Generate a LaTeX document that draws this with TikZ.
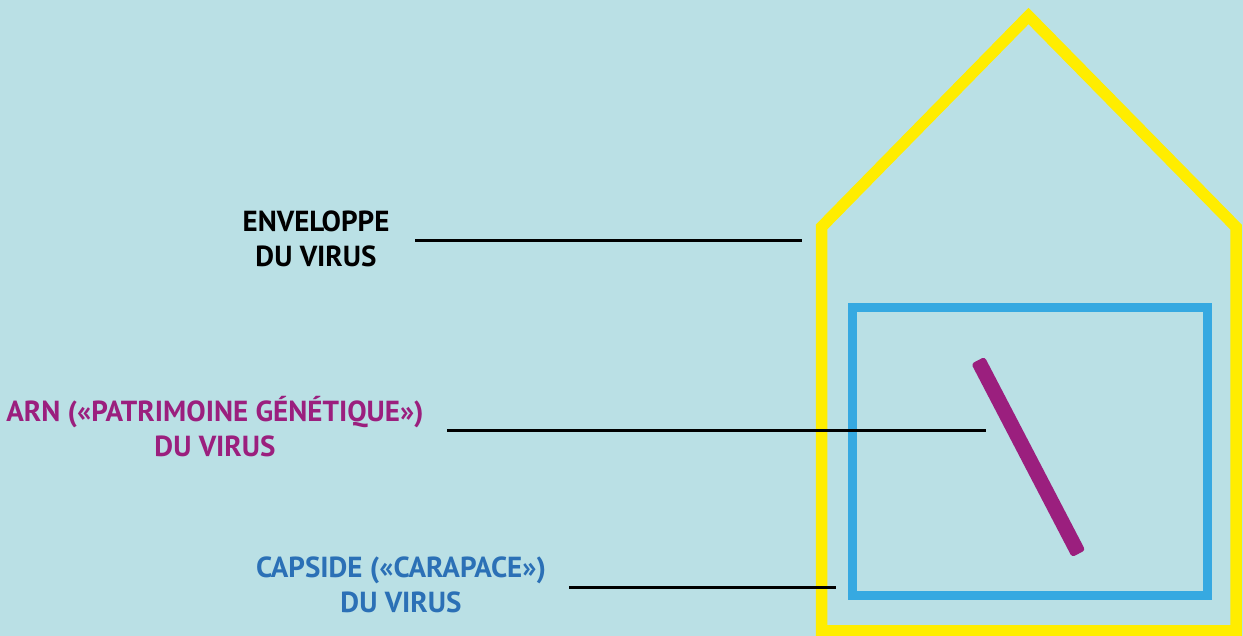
\documentclass[tikz,border=0pt]{standalone}
\usepackage{fontspec}
\setmainfont{PT Sans}
\definecolor{bg}{HTML}{BAE0E5}
\definecolor{envyellow}{HTML}{FFED00}
\definecolor{capblue}{HTML}{36A9E1}
\definecolor{arnpurple}{HTML}{9B1F7E}
\definecolor{txtblue}{HTML}{2B70B6}
\tikzset{
  lbl/.style={align=center, anchor=base, inner sep=0pt, font=\fontsize{29}{35}\selectfont\bfseries},
  leader/.style={draw=black, line width=2.8pt},
}
\begin{document}
\begin{tikzpicture}[x=1pt,y=-1pt]
\fill[bg] (0,0) rectangle (1243,636);
\useasboundingbox (0,0) rectangle (1243,636);
% envelope
\draw[envyellow, line width=11.5pt, miter limit=10]
  (821.5,641) -- (821.5,227) -- (1028.5,16) -- (1236,227) -- (1236,641);
\draw[envyellow, line width=11.5pt] (816,631) -- (1242,631);
% capsid
\draw[capblue, line width=9pt] (852.5,307.5) rectangle (1207.5,595.5);
% RNA
\node[fill=arnpurple, rectangle, rounded corners=3pt, minimum width=218pt, minimum height=15pt, inner sep=0pt, rotate=-62.5] (arn) at (1028.3,457) {};
% labels (base anchor = baseline of last line)
\node[lbl, text=black] (env) at (316,267) {ENVELOPPE\\DU VIRUS};
\node[lbl, text=arnpurple] (arnlbl) at (215,456.5) {ARN («PATRIMOINE GÉNÉTIQUE»)\\DU VIRUS};
\node[lbl, text=txtblue] (caplbl) at (401,612.5) {CAPSIDE («CARAPACE»)\\DU VIRUS};
% leader lines
\coordinate (e1) at (415,240.5);
\coordinate (e2) at (802,240.5);
\coordinate (a1) at (447,430.7);
\coordinate (a2) at (986,430.7);
\coordinate (c1) at (569,587.3);
\coordinate (c2) at (836,587.3);
\draw[leader] (e1) -- (e2);
\draw[leader] (a1) -- (a2);
\draw[leader] (c1) -- (c2);
\end{tikzpicture}
\end{document}
